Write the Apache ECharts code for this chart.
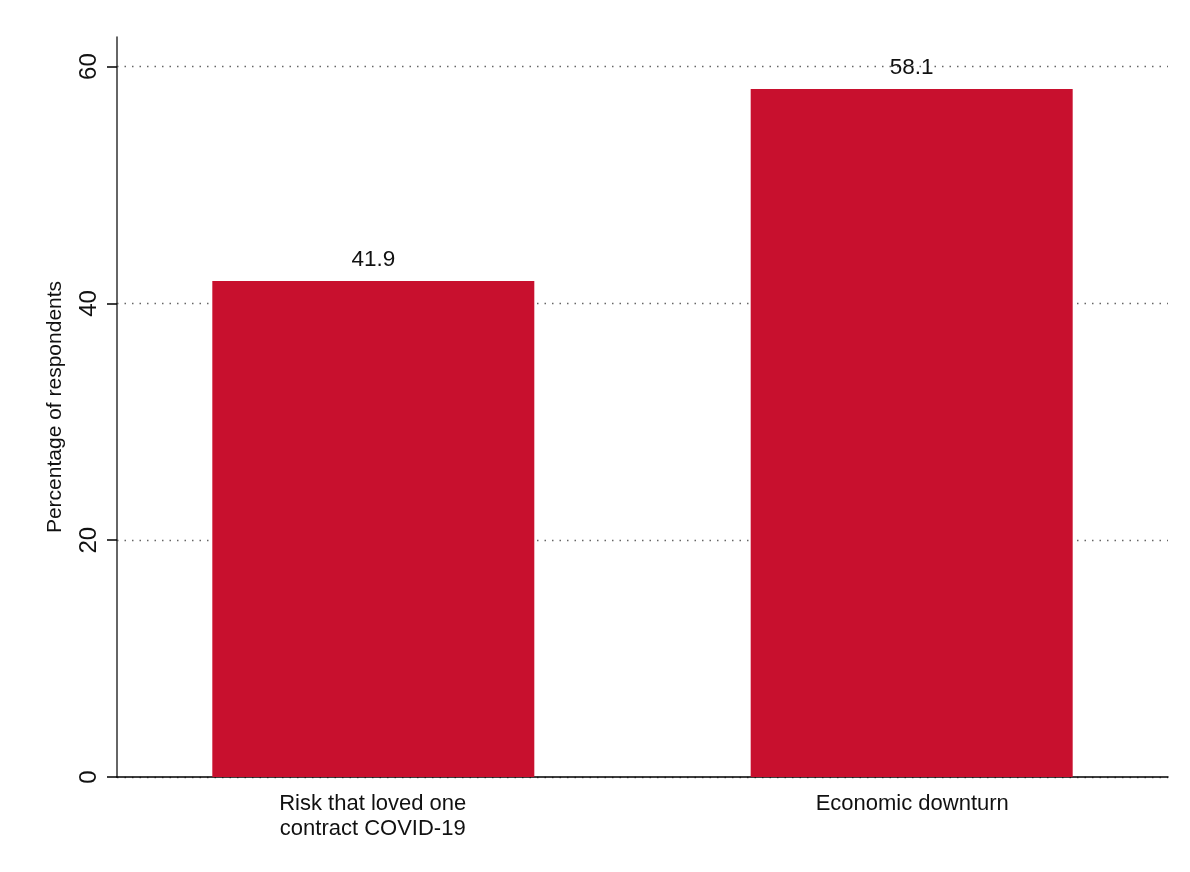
<!DOCTYPE html>
<html>
<head>
<meta charset="utf-8">
<script src="https://cdn.jsdelivr.net/npm/echarts@6/dist/echarts.min.js"></script>
<style>html,body{margin:0;padding:0;background:#fff;}#chart{width:1190px;height:872px;}</style>
</head>
<body>
<div id="chart"></div>
<script>
const categories = ['Risk that loved one\ncontract COVID-19', 'Economic downturn'];
const values = [41.9, 58.1];
const yTicks = [0, 20, 40, 60];
const yAxisTitle = 'Percentage of respondents';

const barLabel = { show: true, position: 'top', distance: 10, color: '#111', fontSize: 22.5, fontFamily: 'Liberation Sans, Arial', formatter: p => p.value.toFixed(1) };
// one series per slot so the two bars sit slightly left / right of the category centre, as in the reference
const series = values.map((v, i) => ({
  type: 'bar',
  data: values.map((x, j) => (j === i ? x : '-')),
  barWidth: 322,
  barGap: '-96%',
  itemStyle: { color: '#C8102E' },
  label: barLabel
}));
const labelPads = [[0, 14, 0, 0], [0, 0, 0, 14]];
const catData = categories.map((c, i) => ({ value: c, textStyle: { padding: labelPads[i] } }));

const chart = echarts.init(document.getElementById('chart'));
chart.setOption({
  animation: false,
  backgroundColor: '#fff',
  grid: { left: 117, right: 22, top: 37, bottom: 95 },
  xAxis: {
    type: 'category',
    data: catData,
    axisLine: { lineStyle: { color: '#000', width: 1.5 } },
    axisTick: { show: false },
    axisLabel: { color: '#111', fontSize: 22, fontFamily: 'Liberation Sans, Arial', margin: 14, lineHeight: 25 }
  },
  yAxis: {
    type: 'value',
    min: 0, max: 62.5, interval: 20,
    name: yAxisTitle,
    nameLocation: 'middle',
    nameGap: 51,
    nameTextStyle: { color: '#111', fontSize: 21, fontFamily: 'Liberation Sans, Arial' },
    axisLine: { show: true, lineStyle: { color: '#333', width: 1.5 } },
    axisTick: { show: true, length: 10, lineStyle: { color: '#000', width: 1.5 }, customValues: yTicks },
    axisLabel: { rotate: 90, color: '#111', fontSize: 24, fontFamily: 'Liberation Sans, Arial', margin: 16, customValues: yTicks },
    splitLine: { show: true, lineStyle: { color: '#666', width: 1.3, type: [1.5, 6] } }
  },
  series: series
});
</script>
</body>
</html>
